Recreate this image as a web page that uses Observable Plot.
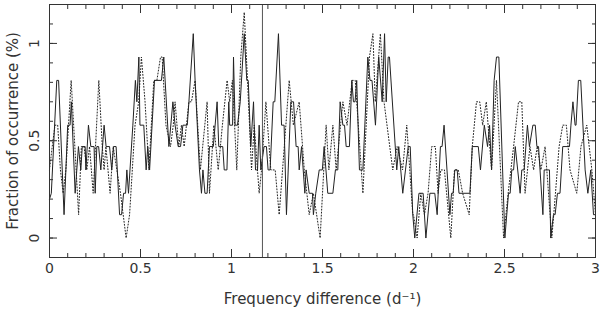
<!DOCTYPE html>
<html><head><meta charset="utf-8">
<script src="https://cdn.jsdelivr.net/npm/d3@7"></script>
<script src="https://cdn.jsdelivr.net/npm/@observablehq/plot@0.6"></script>
<style>body{margin:0;background:#fff}</style>
</head><body><div id="chart"></div>
<script>
const solidX = [0.0,0.01,0.04,0.05,0.08,0.10,0.113,0.12,0.141,0.159,0.172,0.18,0.196,0.20,0.214,0.227,0.245,0.251,0.26,0.27,0.282,0.30,0.311,0.33,0.342,0.352,0.366,0.385,0.396,0.407,0.418,0.425,0.434,0.458,0.472,0.48,0.491,0.497,0.518,0.531,0.54,0.55,0.577,0.615,0.628,0.656,0.678,0.69,0.707,0.72,0.733,0.757,0.766,0.79,0.80,0.824,0.835,0.843,0.854,0.866,0.879,0.90,0.921,0.93,0.952,0.96,0.975,0.985,0.99,1.006,1.011,1.02,1.033,1.048,1.07,1.084,1.092,1.106,1.121,1.132,1.143,1.152,1.161,1.179,1.192,1.201,1.212,1.229,1.238,1.258,1.275,1.289,1.302,1.326,1.341,1.355,1.366,1.372,1.385,1.403,1.41,1.427,1.445,1.45,1.463,1.482,1.499,1.509,1.529,1.557,1.571,1.584,1.597,1.612,1.621,1.63,1.648,1.661,1.67,1.679,1.688,1.703,1.722,1.749,1.761,1.772,1.791,1.809,1.828,1.841,1.85,1.861,1.868,1.908,1.919,1.941,1.956,1.971,1.982,1.996,2.007,2.03,2.053,2.068,2.09,2.117,2.13,2.148,2.157,2.168,2.2,2.209,2.218,2.227,2.24,2.25,2.31,2.323,2.356,2.368,2.389,2.407,2.418,2.429,2.443,2.456,2.469,2.502,2.522,2.531,2.54,2.55,2.559,2.586,2.595,2.608,2.626,2.637,2.656,2.669,2.678,2.687,2.711,2.718,2.747,2.754,2.769,2.778,2.791,2.805,2.82,2.857,2.865,2.876,2.888,2.893,2.906,2.919,2.943,2.958,2.974,2.989,3.0];
const solidY = [0.2,0.23,0.81,0.81,0.12,0.58,0.58,0.70,0.23,0.47,0.35,0.47,0.47,0.35,0.58,0.47,0.47,0.23,0.47,0.47,0.35,0.58,0.47,0.47,0.35,0.47,0.47,0.12,0.12,0.23,0.23,0.35,0.23,0.58,0.81,0.70,0.93,0.58,0.58,0.35,0.47,0.35,0.81,0.81,0.93,0.47,0.70,0.58,0.47,0.47,0.58,0.58,0.70,1.05,0.81,0.35,0.23,0.35,0.23,0.23,0.47,0.47,0.70,0.47,0.47,0.35,0.35,0.70,0.58,0.58,0.93,0.58,0.58,0.70,1.05,0.81,0.81,0.47,0.70,0.35,0.35,0.58,0.35,0.47,0.47,0.35,0.35,0.70,0.70,1.05,0.58,0.58,0.12,0.70,0.70,0.47,0.47,0.35,0.47,0.23,0.35,0.23,0.23,0.12,0.23,0.35,0.35,0.47,0.23,0.23,0.35,0.35,0.70,0.58,0.58,0.47,0.47,0.81,0.70,0.70,0.81,0.35,0.35,0.93,0.81,0.81,0.58,0.93,0.70,1.05,0.70,0.93,0.93,0.35,0.47,0.23,0.35,0.47,0.47,0.12,0.0,0.23,0.23,0.0,0.23,0.23,0.12,0.47,0.47,0.58,0.12,0.23,0.23,0.35,0.35,0.23,0.23,0.47,0.47,0.35,0.58,0.47,0.58,0.35,0.81,0.93,0.93,0.0,0.23,0.23,0.35,0.35,0.47,0.23,0.35,0.35,0.58,0.47,0.58,0.58,0.47,0.47,0.12,0.35,0.35,0.0,0.12,0.12,0.23,0.23,0.47,0.47,0.58,0.70,0.58,0.58,0.81,0.81,0.35,0.23,0.35,0.12,0.12];

const dottedX = [0.0,0.015,0.03,0.045,0.06,0.075,0.09,0.119,0.16,0.175,0.19,0.205,0.22,0.24,0.271,0.29,0.30,0.31,0.333,0.35,0.37,0.39,0.421,0.44,0.455,0.47,0.49,0.505,0.525,0.546,0.573,0.59,0.61,0.619,0.64,0.665,0.68,0.69,0.71,0.725,0.74,0.766,0.78,0.80,0.829,0.866,0.879,0.903,0.927,0.95,0.976,0.99,1.005,1.029,1.051,1.07,1.088,1.11,1.125,1.152,1.165,1.189,1.216,1.24,1.262,1.29,1.317,1.34,1.372,1.40,1.427,1.45,1.487,1.52,1.535,1.557,1.575,1.612,1.635,1.663,1.68,1.722,1.758,1.777,1.79,1.818,1.838,1.886,1.91,1.94,1.963,1.996,2.0,2.02,2.04,2.06,2.08,2.1,2.12,2.135,2.15,2.17,2.205,2.225,2.246,2.27,2.306,2.323,2.346,2.364,2.38,2.40,2.429,2.456,2.495,2.52,2.55,2.577,2.595,2.613,2.64,2.66,2.68,2.70,2.723,2.76,2.78,2.80,2.82,2.84,2.86,2.897,2.92,2.952,2.98,3.0];
const dottedY = [0.35,0.47,0.58,0.58,0.35,0.23,0.35,0.81,0.12,0.47,0.47,0.35,0.47,0.23,0.81,0.47,0.35,0.47,0.23,0.47,0.35,0.23,0.0,0.12,0.35,0.58,0.70,0.93,0.70,0.35,0.81,0.81,0.93,0.93,0.58,0.47,0.58,0.70,0.47,0.58,0.47,0.70,0.70,0.81,0.35,0.70,0.23,0.58,0.35,0.58,0.81,0.70,0.81,0.35,0.93,1.16,0.81,0.35,0.58,0.23,0.35,0.70,0.35,0.35,0.12,0.47,0.81,0.58,0.70,0.35,0.12,0.23,0.0,0.58,0.35,0.58,0.35,0.70,0.58,0.81,0.81,0.23,0.93,1.05,0.70,1.05,0.70,0.35,0.47,0.35,0.58,0.12,0.12,0.0,0.23,0.12,0.23,0.47,0.47,0.23,0.35,0.35,0.0,0.35,0.35,0.23,0.12,0.47,0.70,0.70,0.58,0.70,0.35,0.81,0.0,0.23,0.47,0.70,0.70,0.23,0.47,0.35,0.47,0.35,0.47,0.0,0.23,0.47,0.58,0.58,0.35,0.23,0.47,0.58,0.35,0.12];

const markerFreq = 1.17;
const xMajor = [0, 0.5, 1, 1.5, 2, 2.5, 3];
const xLabels = ["0", "0.5", "1", "1.5", "2", "2.5", "3"];
const yMajor = [0, 0.5, 1];
const yLabels = ["0", "0.5", "1"];
const xMinor = d3.range(0, 31).map(i => i / 10);
const yMinor = d3.range(-1, 13).map(i => i / 10);
const xTitle = "Frequency difference (d\u207B\u00B9)";
const yTitle = "Fraction of occurrence (%)";

const solid = solidX.map((x, i) => ({x, y: solidY[i]}));
const dotted = dottedX.map((x, i) => ({x, y: dottedY[i]}));
const ink = "#333";
const blank = () => "";
const tickOpts = (anchor, size) => ({anchor, tickSize: size, tickFormat: blank, stroke: ink, label: null});

const chart = Plot.plot({
  width: 600, height: 311,
  marginLeft: 49, marginRight: 5, marginTop: 4, marginBottom: 54,
  style: {fontFamily: "'DejaVu Sans', sans-serif", fontSize: "14px", color: ink, background: "#fff"},
  x: {domain: [0, 3], axis: null},
  y: {domain: [-0.1, 1.2], axis: null},
  marks: [
    Plot.line(dotted, {x: "x", y: "y", stroke: "#222", strokeWidth: 1, strokeDasharray: "1,2"}),
    Plot.line(solid, {x: "x", y: "y", stroke: "#222", strokeWidth: 1}),
    Plot.ruleX([markerFreq], {stroke: "#555", strokeWidth: 1}),
    Plot.axisX(xMinor, tickOpts("bottom", -4)),
    Plot.axisX(xMajor, tickOpts("bottom", -8)),
    Plot.axisX(xMinor, tickOpts("top", -4)),
    Plot.axisX(xMajor, tickOpts("top", -8)),
    Plot.axisY(yMinor, tickOpts("left", -4)),
    Plot.axisY(yMajor, tickOpts("left", -8)),
    Plot.axisY(yMinor, tickOpts("right", -4)),
    Plot.axisY(yMajor, tickOpts("right", -8)),
    Plot.axisX(xMajor, {anchor: "bottom", tickSize: 0, tickPadding: 6, tickFormat: (d, i) => xLabels[i], fontSize: 14, fill: ink, label: null}),
    Plot.text(yMajor, {y: d => d, frameAnchor: "left", dx: -15, rotate: -90, textAnchor: "middle", text: (d, i) => yLabels[i], fontSize: 14, fill: ink}),
    Plot.frame({stroke: ink, strokeWidth: 1}),
    Plot.text([xTitle], {frameAnchor: "bottom", dy: 46, text: d => d, fontSize: 15, fill: ink}),
    Plot.text([yTitle], {frameAnchor: "left", dx: -36, rotate: -90, textAnchor: "middle", text: d => d, fontSize: 15, fill: ink})
  ]
});
document.getElementById("chart").appendChild(chart);
</script>
</body></html>
